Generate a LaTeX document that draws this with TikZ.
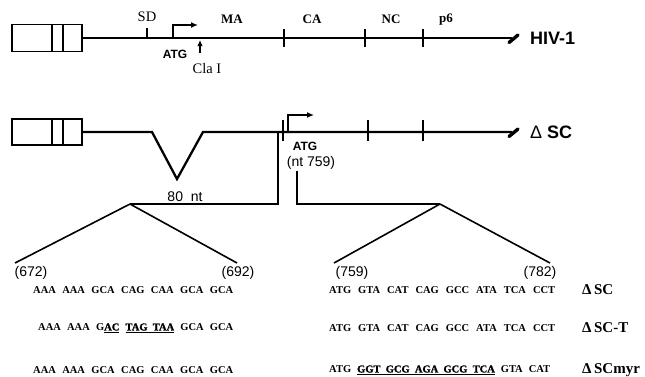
\documentclass[tikz,border=0pt]{standalone}
\usepackage{fontspec}
\setmainfont{Liberation Serif}
\setsansfont{Liberation Sans}
\usetikzlibrary{arrows.meta,positioning,calc}
\newcommand{\heavy}[1]{\underline{\addfontfeatures{FakeBold=1.5}#1}}
\tikzset{
  gene/.style={line width=2.3pt},
  ltr/.style={rectangle, draw=black, line width=1.4pt, minimum width=70pt,
    minimum height=27pt, inner sep=0pt},
  tick/.style={line width=1.8pt},
  fan/.style={line width=1.6pt},
  endmark/.style={line width=3.4pt, line cap=round},
  prom/.style={-{Latex[length=7pt,width=6pt]}, line width=1.7pt},
  clasite/.style={-{Latex[length=6pt,width=5.5pt]}, line width=1.6pt},
  site/.style={font=\fontsize{14.5}{14.5}\selectfont, inner sep=0pt},
  gagdomain/.style={font=\bfseries\fontsize{13}{13}\selectfont, inner sep=0pt},
  startcodon/.style={font=\sffamily\bfseries\fontsize{12}{12}\selectfont, inner sep=0pt},
  ntlabel/.style={font=\sffamily\fontsize{14}{14}\selectfont, inner sep=0pt},
  ntpos/.style={font=\sffamily\fontsize{14}{14}\selectfont, inner sep=0pt},
  seq/.style={font=\bfseries\fontsize{10.5}{10.5}\selectfont, inner sep=0pt, anchor=west},
  virus/.style={font=\sffamily\bfseries\fontsize{18}{18}\selectfont, anchor=west, inner sep=0pt},
  construct/.style={font=\bfseries\fontsize{15}{15}\selectfont, anchor=west, inner sep=0pt},
}

\begin{document}
\begin{tikzpicture}[x=1pt, y=-1pt]
\useasboundingbox (0,0) rectangle (645,376);

% ---------------- HIV-1 (wild type) ----------------
\node[ltr] (n-ltr1) at (47,38) {};
\foreach \x in {52,63} \draw[line width=1.4pt] (\x,24.5) -- (\x,51.5);
\coordinate (n-end1) at (512,38);
\draw[gene] (n-ltr1.east) -- (n-end1);
\draw[endmark] (509,42.5) -- (518,35);
\node[virus] (n-hiv) at (530,38) {HIV-1};

% SD, start codon, Cla I
\draw[tick] (147,38) -- (147,28);
\node[site] (n-sd) at (147,17) {SD};
\draw[prom] (173,38) -- (173,25) -- (198,25);
\node[startcodon] (n-atg1) at (175,54) {ATG};
\node[site] (n-cla) at (207,69) {Cla I};
\coordinate (n-clatail) at (200,53);
\draw[clasite] (n-clatail) -- (200,40);

% gag domains
\foreach \x in {284,365,423} \draw[tick] (\x,29) -- (\x,47);
\node[gagdomain] (n-ma) at (232,19) {MA};
\node[gagdomain] (n-ca) at (312,19) {CA};
\node[gagdomain] (n-nc) at (391,19) {NC};
\node[gagdomain] (n-p6) at (446,20) {p6};

% ---------------- DELTA SC ----------------
\node[ltr, minimum height=26pt] (n-ltr2) at (47,132) {};
\foreach \x in {52,63} \draw[line width=1.4pt] (\x,119) -- (\x,145);
\coordinate (n-end2) at (512,132);
\draw[gene] (n-ltr2.east) -- (152,132) -- (177,179) -- (203,132) -- (n-end2);
\draw[endmark] (509,136.5) -- (518,129);
\node[virus] (n-dsc) at (530,132) {{\mdseries Δ} SC};
\node[ntlabel] (n-80nt) at (185,197) {80\ \ nt};

\foreach \x in {283,368,423} \draw[tick] (\x,120) -- (\x,141);
\draw[prom] (288,132) -- (288,115) -- (314,115);
\node[startcodon] (n-atg2) at (305,146) {ATG};
\node[ntlabel] (n-nt759) at (311,163) {(nt 759)};

% ---------------- expansions ----------------
\coordinate (n-apexL) at (130,204);
\coordinate (n-apexR) at (440,204);
\draw[fan] (278,132) -- (278,204) -- (n-apexL);
\draw[fan] (297,171) -- (297,204) -- (n-apexR);

\node[ntpos] (n-672) at (31,273) {(672)};
\node[ntpos] (n-692) at (238,273) {(692)};
\node[ntpos] (n-759) at (352,273) {(759)};
\node[ntpos] (n-782) at (540,273) {(782)};

\draw[fan] (n-apexL) -- (15,263);
\draw[fan] (n-apexL) -- (237,263);
\draw[fan] (n-apexR) -- (334,263);
\draw[fan] (n-apexR) -- (550,263);

% ---------------- sequences ----------------
\node[seq] (n-seqL1) at (33,290)
  {\makebox[200pt][s]{AAA AAA GCA CAG CAA GCA GCA}};
\node[seq] (n-seqL2) at (38,328)
  {\makebox[195pt][s]{AAA AAA G\heavy{AC} \heavy{TAG\ \ TAA} GCA GCA}};
\node[seq] (n-seqL3) at (33,370)
  {\makebox[200pt][s]{AAA AAA GCA CAG CAA GCA GCA}};

\node[seq] (n-seqR1) at (329,290)
  {\makebox[226pt][s]{ATG GTA CAT CAG GCC ATA TCA CCT}};
\node[seq] (n-seqR2) at (329,328)
  {\makebox[226pt][s]{ATG GTA CAT CAG GCC ATA TCA CCT}};
\node[seq] (n-seqR3) at (329,370)
  {\makebox[221pt][s]{ATG \heavy{GGT\ \ GCG\ \ AGA\ \ GCG\ \ TCA} GTA CAT}};

\node[construct] (n-c1) at (582,290) {Δ\,SC};
\node[construct] (n-c2) at (582,328) {Δ\,SC-T};
\node[construct] (n-c3) at (582,370) {Δ\,SCmyr};

\end{tikzpicture}
\end{document}
